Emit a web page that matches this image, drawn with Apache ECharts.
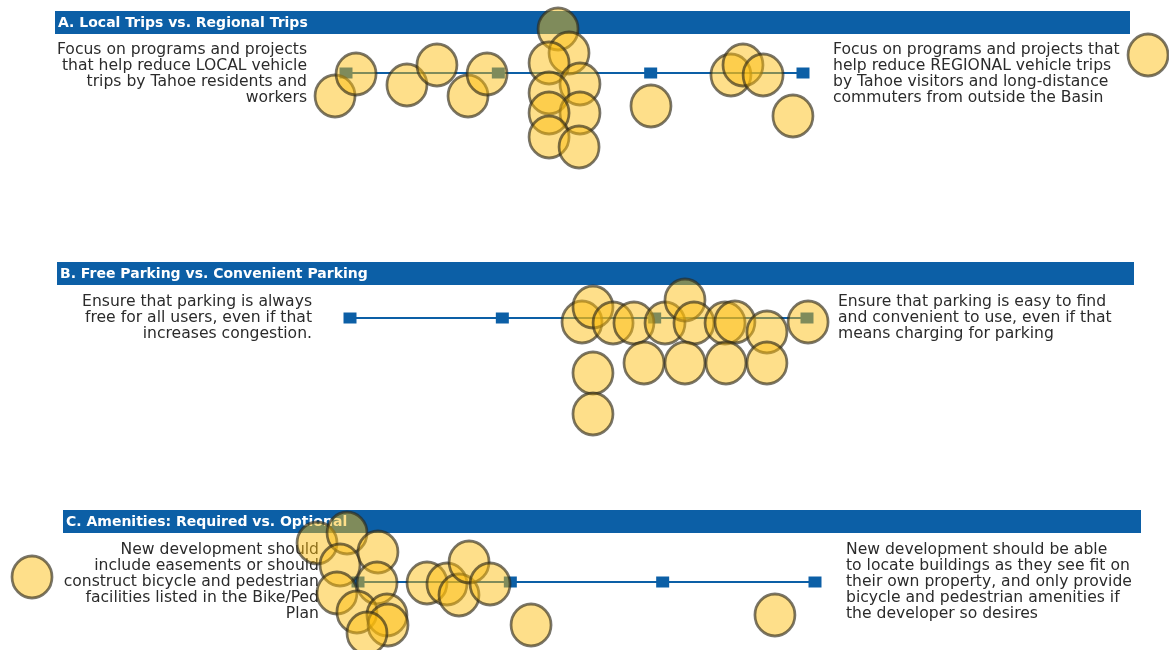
<!DOCTYPE html>
<html>
<head>
<meta charset="utf-8">
<style>
  html, body { margin: 0; padding: 0; background: #ffffff; }
  #chart { width: 1169px; height: 650px; }
</style>
<script src="https://cdn.jsdelivr.net/npm/echarts@6/dist/echarts.min.js"></script>
</head>
<body>
<div id="chart"></div>
<script>
// answer scale: the four squares on each line are the options 1..4
const optionTicks = [1, 2, 3, 4];

// each response: [position on the 1..4 scale, vertical jitter]
const tripsResponses = [
    [0.928, 23], [1.066, 1], [1.400, 12], [1.597, -8], [1.801, 23], [1.926, 1],
    [2.392, -44], [2.464, -20], [2.333, -10], [2.536, 11], [2.333, 20], [2.536, 40],
    [2.333, 40], [2.333, 64], [2.530, 74], [3.002, 33], [3.527, 2], [3.606, -8],
    [3.738, 2], [3.934, 43], [6.265, -18]
];
const parkingResponses = [
    [2.523, 4], [2.595, -11], [2.727, 5], [2.864, 5], [3.068, 5], [3.199, -18],
    [3.258, 5], [3.462, 5], [3.527, 4], [3.737, 14], [4.007, 4], [2.930, 45],
    [3.199, 45], [3.468, 45], [3.737, 45], [2.595, 55], [2.595, 96]
];
const amenityResponses = [
    [0.731, -39], [0.928, -49], [0.882, -17], [1.131, -30], [0.862, 11], [1.125, 1],
    [0.993, 30], [1.190, 33], [1.197, 43], [1.059, 51], [1.453, 1], [1.584, 2],
    [1.663, 13], [1.729, -20], [1.867, 2], [2.136, 43], [3.737, 33], [-1.140, -5]
];

const panelTitles = [
    'A. Local Trips vs. Regional Trips',
    'B. Free Parking vs. Convenient Parking',
    'C. Amenities: Required vs. Optional'
];
const leftTexts = [
    'Focus on programs and projects\nthat help reduce LOCAL vehicle\ntrips by Tahoe residents and\nworkers',
    'Ensure that parking is always\nfree for all users, even if that\nincreases congestion.',
    'New development should\ninclude easements or should\nconstruct bicycle and pedestrian\nfacilities listed in the Bike/Ped\nPlan'
];
const rightTexts = [
    'Focus on programs and projects that\nhelp reduce REGIONAL vehicle trips\nby Tahoe visitors and long-distance\ncommuters from outside the Basin',
    'Ensure that parking is easy to find\nand convenient to use, even if that\nmeans charging for parking',
    'New development should be able\nto locate buildings as they see fit on\ntheir own property, and only provide\nbicycle and pedestrian amenities if\nthe developer so desires'
];
const responses = [tripsResponses, parkingResponses, amenityResponses];

// layout of the three panels (pixels)
const panels = [
    {barX: 55, barY: 11, barW: 1075, lineY: 73, yMax: 100, gridLeft: 346, leftEnd: 307, rightStart: 833, textTop: 42},
    {barX: 57, barY: 262, barW: 1077, lineY: 318, yMax: 100, gridLeft: 350, leftEnd: 312, rightStart: 838, textTop: 294},
    {barX: 63, barY: 510, barW: 1078, lineY: 582, yMax: 66, gridLeft: 358, leftEnd: 319, rightStart: 846, textTop: 542}
];

const BLUE = '#0c5fa6';
const textFont = '15.6px "DejaVu Sans"';

const chart = echarts.init(document.getElementById('chart'));

const grids = [], xAxes = [], yAxes = [], series = [], graphics = [];
panels.forEach((p, i) => {
    grids.push({left: p.gridLeft, width: 457, top: p.lineY - 60, height: 60 + p.yMax});
    xAxes.push({type: 'value', gridIndex: i, min: 1, max: 4, show: false});
    yAxes.push({type: 'value', gridIndex: i, min: -60, max: p.yMax, inverse: true, show: false});

    graphics.push({
        type: 'rect', z: 0,
        shape: {x: p.barX, y: p.barY, width: p.barW, height: 23},
        style: {fill: BLUE}
    });
    graphics.push({
        type: 'text', z: 1,
        style: {
            text: panelTitles[i], x: p.barX + 3, y: p.barY + 12,
            textVerticalAlign: 'middle', fill: '#ffffff',
            font: 'bold 14px "DejaVu Sans"'
        }
    });
    graphics.push({
        type: 'text', z: 1,
        style: {
            text: leftTexts[i], x: p.leftEnd, y: p.textTop, textAlign: 'right',
            textVerticalAlign: 'top', fill: '#2b2b2b', font: textFont, lineHeight: 16
        }
    });
    graphics.push({
        type: 'text', z: 1,
        style: {
            text: rightTexts[i], x: p.rightStart, y: p.textTop, textAlign: 'left',
            textVerticalAlign: 'top', fill: '#2b2b2b', font: textFont, lineHeight: 16
        }
    });

    series.push({
        type: 'line', xAxisIndex: i, yAxisIndex: i, z: 3,
        data: optionTicks.map(t => [t, 0]),
        symbol: 'rect', symbolSize: [13, 11],
        itemStyle: {color: BLUE},
        lineStyle: {color: BLUE, width: 2},
        silent: true
    });
    series.push({
        type: 'scatter', xAxisIndex: i, yAxisIndex: i, z: 10,
        data: responses[i],
        clip: false,
        symbol: 'circle', symbolSize: [40, 42],
        itemStyle: {
            color: 'rgba(252,188,10,0.6)',
            borderColor: 'rgba(45,40,25,0.8)',
            borderWidth: 2.8
        },
        silent: true
    });
});

chart.setOption({
    animation: false,
    backgroundColor: '#ffffff',
    grid: grids,
    xAxis: xAxes,
    yAxis: yAxes,
    graphic: {elements: graphics},
    series: series
});

window.addEventListener('resize', () => chart.resize());
</script>
</body>
</html>
